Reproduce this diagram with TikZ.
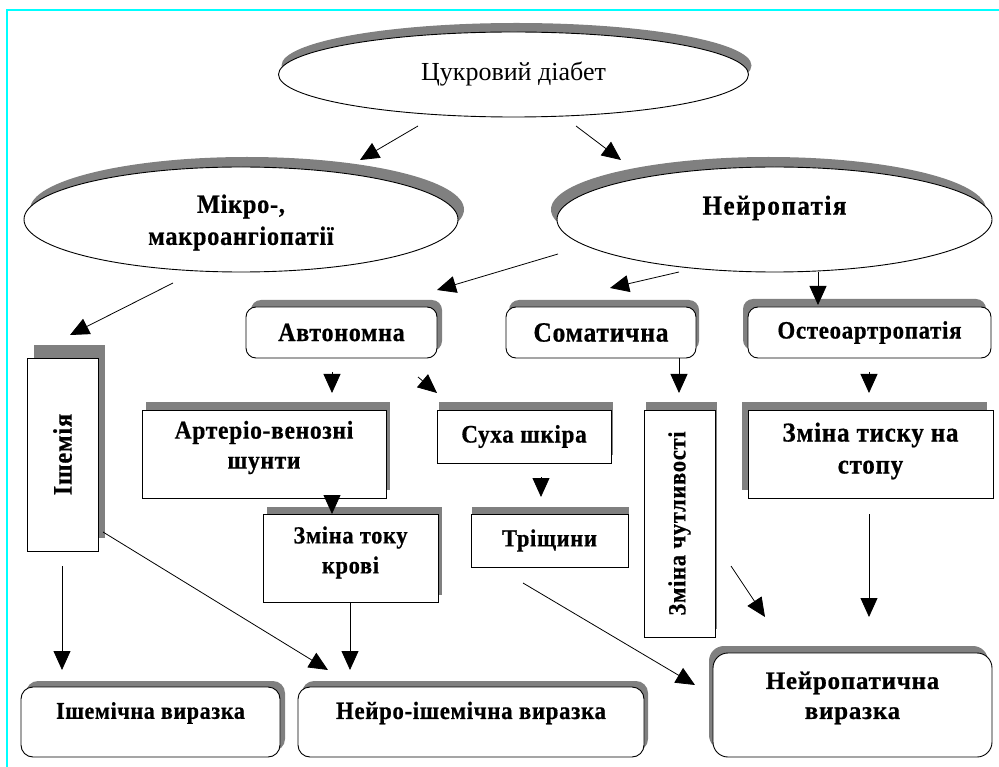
\documentclass[tikz,border=0pt]{standalone}
\usepackage{fontspec}
\setmainfont{Liberation Serif}
\newfontfamily\spacedfont[LetterSpace=3, BoldFeatures={FakeBold=0.7}]{Liberation Serif}
\newfontfamily\widefont[LetterSpace=6, BoldFeatures={FakeBold=0.7}]{Liberation Serif}
\usepackage{graphicx}
\newcommand\tx[1]{\scalebox{1}[1.09]{#1}}
\usetikzlibrary{shadows,arrows.meta,shapes.geometric}
\definecolor{shadowgray}{RGB}{128,128,128}
\definecolor{framecyan}{RGB}{0,255,255}
\tikzset{
  bt/.style={font=\spacedfont\bfseries\fontsize{#1}{30}\selectfont},
  bt/.default=22,
  base/.style={draw=black, fill=white, line width=0.9pt, inner sep=0pt, align=center, bt},
  oval/.style={base, ellipse},
  sq/.style={base, rectangle},
  rbox/.style={base, rectangle, rounded corners=10pt},
  sh/.style 2 args={general shadow={fill=shadowgray, shadow xshift=#1pt, shadow yshift=#2pt}},
  arr/.style={line width=0.8pt, -{Triangle[length=19pt,width=17pt]}},
}
\begin{document}
\begin{tikzpicture}[x=1pt,y=-1pt]
\useasboundingbox (0,0) rectangle (999,767);
\draw[framecyan, line width=2pt] (7,767) -- (7,10) -- (999,10);

% ellipses
\node[oval, font=\fontsize{26}{28}\selectfont, sh={3}{9}, minimum width=470, minimum height=85] (dm) at (513.5,74.5) {Цукровий діабет};
\node[oval, sh={6}{10}, minimum width=434, minimum height=105, label={[font=\spacedfont\bfseries\fontsize{24.3}{32}\selectfont, align=center, yshift=-3pt]center:\tx{Мікро-,}\\\tx{макроангіопатії}}] (mikro) at (241,219.5) {};
\node[oval, sh={-6}{10}, minimum width=435, minimum height=105, label={[font=\widefont\bfseries\fontsize{25}{30}\selectfont, yshift=11.5pt]center:\tx{Нейропатія}}] (neuro) at (774.5,219.5) {};

% second row
\node[rbox, bt=24, sh={5}{7}, minimum width=191, minimum height=51] (avto) at (341.5,332.5) {\tx{Автономна}};
\node[rbox, bt=25.5, sh={3}{7}, minimum width=190, minimum height=51] (soma) at (601,332.5) {\tx{Соматична}};
\node[rbox, bt=22.9, sh={-5}{8}, minimum width=243, minimum height=51] (osteo) at (869.5,332.5) {\tx{Остеоартропатія}};

% boxes
\node[sq, bt=24.5, sh={7}{13}, minimum width=71, minimum height=193] (ish) at (62.5,454.5) {\rotatebox{90}{\tx{Ішемія}}};
\node[sq, sh={4}{8}, minimum width=244, minimum height=88, label={[bt=23.5, align=center, yshift=6.5pt]center:\tx{Артеріо-венозні}\\\tx{шунти}}] (arterio) at (264,454) {};
\node[sq, bt=23.1, sh={2}{8}, minimum width=174, minimum height=53] (sukha) at (524,436.5) {\tx{Суха шкіра}};
\node[sq, bt=22.6, sh={2}{8}, minimum width=71, minimum height=227] (chutl) at (679.5,523.5) {\rotatebox{90}{\tx{Зміна чутливості}}};
\node[sq, sh={-6}{8}, minimum width=245, minimum height=88, label={[font=\spacedfont\bfseries\fontsize{25}{32}\selectfont, align=center, yshift=3pt]center:\tx{Зміна тиску на}\\\tx{стопу}}] (tysk) at (870.5,454) {};
\node[sq, sh={4}{7}, minimum width=175, minimum height=88, label={[bt=22.4, align=center, yshift=5.5pt]center:\tx{Зміна току}\\\tx{крові}}] (tok) at (350.5,558) {};
\node[sq, bt=22.5, sh={1}{7}, minimum width=157, minimum height=53] (trish) at (549.5,540.5) {\tx{Тріщини}};

% bottom row
\node[rbox, rounded corners=12pt, sh={5}{6}, minimum width=259, minimum height=70, label={[bt=22, yshift=9pt]center:\tx{Ішемічна виразка}}] (iv) at (150.5,722) {};
\node[rbox, rounded corners=12pt, sh={4}{6}, minimum width=346, minimum height=70, label={[bt=22.8, yshift=9pt]center:\tx{Нейро-ішемічна виразка}}] (nisch) at (471,722) {};
\node[rbox, rounded corners=15pt, sh={-4}{7}, minimum width=279, minimum height=104, label={[bt=25, align=center, yshift=7pt]center:Нейропатична\\виразка}] (np) at (852.5,705) {};

% connectors
\draw[arr] ([shift={(-95.5,51.5)}]dm.center) -- ([shift={(119,-59.5)}]mikro.center);
\draw[arr] ([shift={(62.5,51.5)}]dm.center) -- ([shift={(-153.5,-59.5)}]neuro.center);
\draw[arr] ([shift={(-68,63.5)}]mikro.center) -- ([shift={(7.5,-119.5)}]ish.center);
\draw[arr] ([shift={(-216.5,34.5)}]neuro.center) -- ([shift={(95.5,-42.5)}]avto.center);
\draw[arr] ([shift={(-95.5,52.5)}]neuro.center) -- ([shift={(9,-44.5)}]soma.center);
\draw[arr] ([shift={(43.5,52.5)}]neuro.center) -- ([shift={(-51.5,-27.5)}]osteo.center);
\draw[arr] ([shift={(-9.5,39.5)}]avto.center) -- ([shift={(68,-61)}]arterio.center);
\draw[arr] ([shift={(76.5,44.5)}]avto.center) -- ([shift={(-87,-43.5)}]sukha.center);
\draw[arr] ([shift={(78,25.5)}]soma.center) -- ([shift={(-0.5,-130.5)}]chutl.center);
\draw[arr] ([shift={(-0.5,39.5)}]osteo.center) -- ([shift={(-1.5,-61)}]tysk.center);
\draw[arr] ([shift={(68,41)}]arterio.center) -- ([shift={(-18.5,-44)}]tok.center);
\draw[arr] ([shift={(17,40.5)}]sukha.center) -- ([shift={(-8.5,-43.5)}]trish.center);
\draw[arr] ([shift={(-0.5,111.5)}]ish.center) -- ([shift={(-88.5,-52)}]iv.center);
\draw[arr] ([shift={(40.5,77.5)}]ish.center) -- ([shift={(-143,-52)}]nisch.center);
\draw[arr] ([shift={(-0.5,44)}]tok.center) -- ([shift={(-121,-52)}]nisch.center);
\draw[arr] ([shift={(-26.5,42.5)}]trish.center) -- ([shift={(-157.5,-20)}]np.center);
\draw[arr] ([shift={(51.5,42.5)}]chutl.center) -- ([shift={(-87.5,-88)}]np.center);
\draw[arr] ([shift={(-1.5,60)}]tysk.center) -- ([shift={(16.5,-88)}]np.center);
\end{tikzpicture}
\end{document}
